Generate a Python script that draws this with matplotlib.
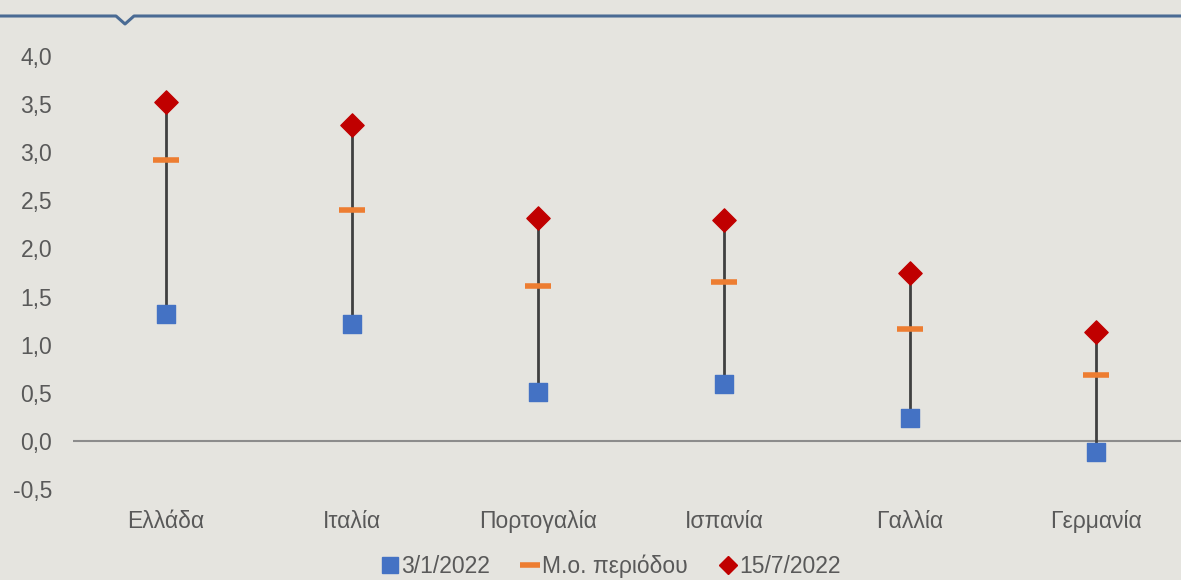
import matplotlib.pyplot as plt
from matplotlib.lines import Line2D
import numpy as np

plt.rcParams['font.family'] = ['Liberation Sans', 'DejaVu Sans']

# data
countries = ['Ελλάδα', 'Ιταλία', 'Πορτογαλία', 'Ισπανία', 'Γαλλία', 'Γερμανία']
start_2022 = [1.32, 1.21, 0.51, 0.59, 0.24, -0.12]   # 3/1/2022
period_avg = [2.92, 2.40, 1.61, 1.65, 1.16, 0.68]    # Μ.ο. περιόδου
mid_2022 = [3.52, 3.28, 2.32, 2.30, 1.75, 1.13]      # 15/7/2022

bg = '#e5e4df'
text_col = '#595959'

fig = plt.figure(figsize=(11.81, 5.8), dpi=100, facecolor=bg)
ax = fig.add_axes([73 / 1181, 1 - 489 / 580, 1116 / 1181, (489 - 56) / 580])
ax.set_facecolor(bg)

x = np.arange(len(countries))

# high-low lines
ax.vlines(x, start_2022, mid_2022, color='#404040', linewidth=2, zorder=2)

ax.scatter(x, start_2022, marker='s', s=170, color='#4472c4', zorder=3, label='3/1/2022')
ax.scatter(x, period_avg, marker='_', s=330, linewidths=4, color='#ed7d31', zorder=4,
           label='Μ.ο. περιόδου')
ax.scatter(x, mid_2022, marker='D', s=140, color='#c00000', zorder=5, label='15/7/2022')

ax.axhline(0, color='#8c8c8c', linewidth=1.5, zorder=1)

ax.set_xlim(-0.5, len(countries) - 0.5)
ax.set_ylim(-0.5, 4.0)
ax.set_yticks(np.arange(-0.5, 4.01, 0.5))
ax.set_yticklabels([f'{v:.1f}'.replace('.', ',') for v in np.arange(-0.5, 4.01, 0.5)])
ax.set_xticks(x)
ax.set_xticklabels(countries)

ax.tick_params(axis='both', length=0, labelsize=16.5, colors=text_col)
ax.tick_params(axis='x', pad=15)
ax.tick_params(axis='y', pad=15)
for s in ax.spines.values():
    s.set_visible(False)

# decorative top border with small notch
px = np.array([0, 116, 125, 134, 1181]) / 1181
py = 1 - np.array([16, 16, 24, 16, 16]) / 580
fig.add_artist(Line2D(px, py, transform=fig.transFigure, color='#4a6b94', linewidth=2.2))

handles = [
    Line2D([], [], marker='s', linestyle='none', markersize=12, color='#4472c4'),
    Line2D([], [], marker='_', linestyle='none', markersize=14, markeredgewidth=4, color='#ed7d31'),
    Line2D([], [], marker='D', linestyle='none', markersize=9, color='#c00000'),
]
fig.legend(handles, ['3/1/2022', 'Μ.ο. περιόδου', '15/7/2022'], loc='center',
           bbox_to_anchor=(610 / 1181, 1 - 566 / 580), ncol=3, frameon=False,
           fontsize=16.5, labelcolor=text_col, handletextpad=0.05, columnspacing=1.3,
           handlelength=0.9, borderpad=0.1)

plt.savefig('out.png', dpi=100, facecolor=bg)
